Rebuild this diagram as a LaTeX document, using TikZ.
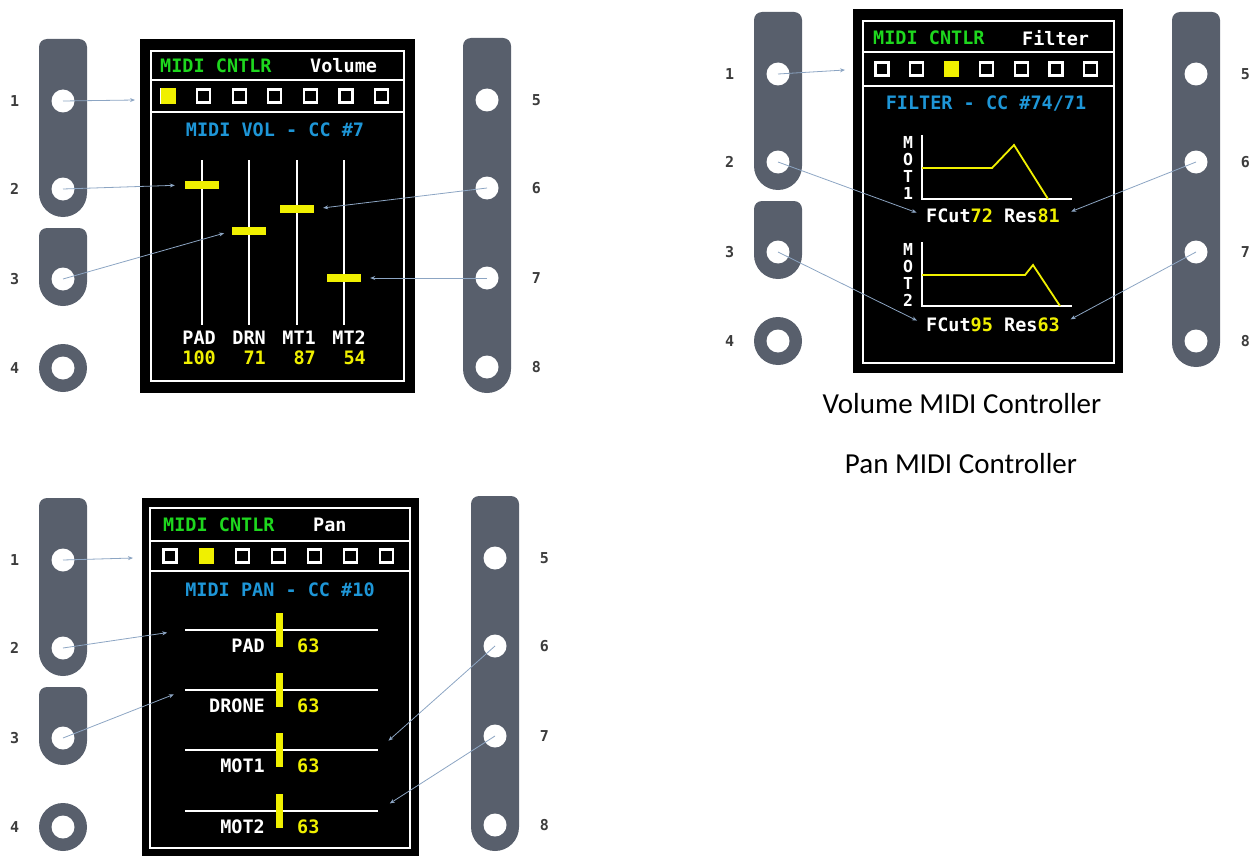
\documentclass[tikz,border=0pt]{standalone}
\usepackage{fontspec}
\setmainfont{Carlito}
\newfontfamily\scrfont{DejaVu Sans Mono}
\usetikzlibrary{arrows.meta,positioning}

\definecolor{knobc}{RGB}{88,95,108}
\definecolor{linkc}{RGB}{140,165,195}
\definecolor{digc}{RGB}{60,60,60}
\definecolor{scrG}{RGB}{30,215,30}
\definecolor{scrC}{RGB}{30,150,215}
\definecolor{scrY}{RGB}{240,240,0}

% one grey strip: centre x, top y, centre of the round end
\newcommand\knobbar[3]{%
  \fill[knob] ({#1-24},#3) -- ({#1-24},{#2+8}) arc[start angle=180,end angle=270,radius=8]
    -- ({#1+16},#2) arc[start angle=270,end angle=360,radius=8]
    -- ({#1+24},#3) arc[start angle=0,end angle=180,radius=24] -- cycle;}

\tikzset{
  knob/.style={fill=knobc},
  hole/.style={circle, fill=white, inner sep=0, minimum size=23},
  digit/.style={font=\scrfont\bfseries\fontsize{15}{15}\selectfont, text=digc, inner sep=0},
  scr/.style={font=\scrfont\bfseries\fontsize{18.5}{18.5}\selectfont, text=white, inner sep=0},
  frame/.style={draw=white, line width=2.4},
  offbox/.style={draw=white, line width=2.2, minimum size=13, inner sep=0},
  onbox/.style={fill=scrY, minimum width=15, minimum height=16, inner sep=0},
  link/.style={draw=linkc, line width=0.8, -{Stealth[length=5pt,width=4pt]}},
  caption/.style={font=\fontsize{29}{34}\selectfont, text=black, inner sep=0},
  pics/leftknobs/.style={code={
    \knobbar{0}{-62}{92}
    \knobbar{0}{127}{181}
    \fill[knob] (0,267) circle[radius=24];
    \node[hole] (-1) at (0,0) {};
    \node[hole] (-2) at (0,88) {};
    \node[hole] (-3) at (0,178) {};
    \node[hole] (-4) at (0,267) {};
  }},
  pics/rightknobs/.style={code={
    \knobbar{0}{-62}{269}
    \node[hole] (-5) at (0,0) {};
    \node[hole] (-6) at (0,88) {};
    \node[hole] (-7) at (0,178) {};
    \node[hole] (-8) at (0,267) {};
  }}
}

\begin{document}
\begin{tikzpicture}[x=1pt,y=-1pt]
  \useasboundingbox (0,0) rectangle (1255,856);

  %% volume screen
  \pic (vl) at (63,101) {leftknobs};
  \pic (vr) at (487,100) {rightknobs};
  \foreach \k in {1,...,4} \node[digit, left=32pt of vl-\k] (vl-n\k) {\k};
  \foreach \k in {5,...,8} \node[digit, right=33pt of vr-\k] (vr-n\k) {\k};

  \fill[black] (140,39) rectangle (415,393);
  \draw[frame] (151,51) rectangle (404,381);
  \draw[frame] (151,80) -- (404,80) (151,112) -- (404,112);
  \node[scr, text=scrG, anchor=west] (vhead) at (160,66) {MIDI CNTLR};
  \node[scr, anchor=west] (vmode) at (310,66) {Volume};
  \foreach \i in {0,...,6} \node[offbox] (vb\i) at ({168+35.6*\i},96) {};
  \node[onbox] (von) at (vb0) {};
  \node[scr, text=scrC] (vtitle) at (275,130) {MIDI VOL - CC \#7};
  \foreach \x/\y/\n in {202/185/PAD, 249/231/DRN, 297/209/MT1, 344/278/MT2} {
    \draw[white, line width=2] (\x,160) -- (\x,325);
    \node[fill=scrY, minimum width=34, minimum height=8, inner sep=0] (vh-\n) at (\x,\y) {};
  }
  \foreach \x/\n/\v in {216/PAD/100, 266/DRN/71, 316/MT1/87, 366/MT2/54} {
    \node[scr, anchor=east] (vn-\n) at (\x,338) {\n};
    \node[scr, text=scrY, anchor=east] (vv-\n) at (\x,358) {\v};
  }
  \coordinate (vsel) at (135,100);
  \draw[link] (vl-1.center) -- (vsel);
  \draw[link, shorten >=10pt] (vl-2.center) -- (vh-PAD.west);
  \draw[link, shorten >=8pt] (vl-3.center) -- (vh-DRN.west);
  \draw[link, shorten >=9pt] (vr-6.center) -- (vh-MT1.east);
  \draw[link, shorten >=9pt] (vr-7.center) -- (vh-MT2.east);

  %% filter screen
  \pic (fl) at (778,74) {leftknobs};
  \pic (fr) at (1196,74) {rightknobs};
  \foreach \k in {1,...,4} \node[digit, left=32pt of fl-\k] (fl-n\k) {\k};
  \foreach \k in {5,...,8} \node[digit, right=33pt of fr-\k] (fr-n\k) {\k};

  \fill[black] (853,9) rectangle (1123,373);
  \draw[frame] (863,21) rectangle (1114,363);
  \draw[frame] (863,52) -- (1114,52) (863,86) -- (1114,86);
  \node[scr, text=scrG, anchor=west] (fhead) at (873,38) {MIDI CNTLR};
  \node[scr, anchor=west] (fmode) at (1022,38) {Filter};
  \foreach \i in {0,...,6} \node[offbox] (fb\i) at ({882+34.8*\i},69) {};
  \node[onbox] (fon) at (fb2) {};
  \node[scr, text=scrC] (ftitle) at (986,103) {FILTER - CC \#74/71};
  % motor 1
  \draw[white, line width=2] (922,135) -- (922,199) -- (1072,199);
  \draw[scrY, line width=1.8] (922,168) -- (992,168) -- (1014,145) -- (1048,199);
  \node[scr, align=center, font=\scrfont\bfseries\fontsize{16.5}{17}\selectfont] (fm1) at (908,168) {M\\O\\T\\1};
  \node[scr] (fc1) at (993,216) {FCut\textcolor{scrY}{72} Res\textcolor{scrY}{81}};
  % motor 2
  \draw[white, line width=2] (922,242) -- (922,306) -- (1072,306);
  \draw[scrY, line width=1.8] (922,275) -- (1025,275) -- (1033,265) -- (1060,306);
  \node[scr, align=center, font=\scrfont\bfseries\fontsize{16.5}{17}\selectfont] (fm2) at (908,275) {M\\O\\T\\2};
  \node[scr] (fc2) at (993,325) {FCut\textcolor{scrY}{95} Res\textcolor{scrY}{63}};
  \coordinate (fsel) at (845,70);
  \draw[link] (fl-1.center) -- (fsel);
  \draw[link, shorten >=10pt] (fl-2.center) -- (fc1.west);
  \draw[link, shorten >=10pt] (fl-3.center) -- (fc2.west);
  \draw[link, shorten >=12pt] (fr-6.center) -- (fc1.east);
  \draw[link, shorten >=12pt] (fr-7.center) -- (fc2.east);

  \node[caption, anchor=base] (capvol) at (962,413) {Volume MIDI Controller};
  \node[caption, anchor=base] (cappan) at (961,473) {Pan MIDI Controller};

  %% pan screen
  \pic (pl) at (63,560) {leftknobs};
  \pic (pr) at (495,558) {rightknobs};
  \foreach \k in {1,...,4} \node[digit, left=32pt of pl-\k] (pl-n\k) {\k};
  \foreach \k in {5,...,8} \node[digit, right=33pt of pr-\k] (pr-n\k) {\k};

  \fill[black] (142,498) rectangle (419,856);
  \draw[frame] (150,508) rectangle (410,848);
  \draw[frame] (150,541) -- (410,541) (150,571) -- (410,571);
  \node[scr, text=scrG, anchor=west] (phead) at (163,525) {MIDI CNTLR};
  \node[scr, anchor=west] (pmode) at (313,525) {Pan};
  \foreach \i in {0,...,6} \node[offbox] (pb\i) at ({170+36.1*\i},556) {};
  \node[onbox] (pon) at (pb1) {};
  \node[scr, text=scrC] (ptitle) at (280,590) {MIDI PAN - CC \#10};
  \foreach \y/\n in {630/PAD, 690/DRONE, 750/MOT1, 811/MOT2} {
    \coordinate (pa-\n) at (185,\y);
    \coordinate (pz-\n) at (378,\y);
    \draw[white, line width=2] (pa-\n) -- (pz-\n);
    \node[fill=scrY, minimum width=7, minimum height=34, inner sep=0] (pm-\n) at (279,\y) {};
    \node[scr, anchor=east] (pn-\n) at (265,{\y+16}) {\n};
    \node[scr, text=scrY, anchor=west] (pv-\n) at (297,{\y+16}) {63};
  }
  \coordinate (psel) at (133,558);
  \draw[link] (pl-1.center) -- (psel);
  \draw[link, shorten >=18pt] (pl-2.center) -- (pa-PAD);
  \draw[link, shorten >=12pt] (pl-3.center) -- (pa-DRONE);
  \draw[link, shorten >=14pt] (pr-6.center) -- (pz-MOT1);
  \draw[link, shorten >=14pt] (pr-7.center) -- (pz-MOT2);
\end{tikzpicture}
\end{document}
